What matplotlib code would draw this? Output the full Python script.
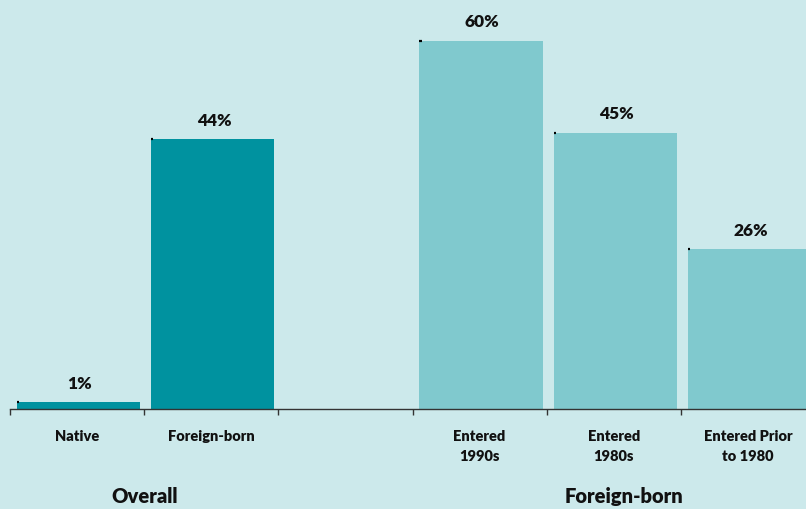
import numpy as np
import matplotlib.pyplot as plt
import matplotlib.transforms as mtransforms

# share of each group (%)
categories = ['Native', 'Foreign-born', '', 'Entered\n1990s', 'Entered\n1980s', 'Entered Prior\nto 1980']
values = [1, 44, None, 60, 45, 26]
groups = ['Overall', 'Foreign-born']
group_centers = [1.0, 4.58]

BG = '#cce9eb'
DARK = '#00929f'
LIGHT = '#80c9ce'
bar_colors = [DARK, DARK, None, LIGHT, LIGHT, LIGHT]

plt.rcParams['font.family'] = ['Lato', 'DejaVu Sans']

fig = plt.figure(figsize=(8.06, 5.10), dpi=100)
fig.patch.set_facecolor(BG)
ax = fig.add_axes([10 / 806, 100.5 / 510, 805 / 806, 368 / 510])
ax.set_facecolor(BG)

for i, v in enumerate(values):
    if v is None:
        continue
    ax.bar(i + 0.052, v, width=0.918, align='edge', color=bar_colors[i], zorder=2)
    # small marker at the bar's top-left corner
    ax.plot([i + 0.052, i + 0.068], [v, v], color='black', lw=1.6,
            solid_capstyle='butt', zorder=3, clip_on=False)
    ax.annotate(f'{v}%', (i + 0.52, v), xytext=(0, 8), textcoords='offset points',
                ha='center', va='bottom', fontsize=12.5, fontweight='heavy',
                color='#111111', annotation_clip=False)

ax.set_xlim(0, 6)
ax.set_ylim(0, 60)
ax.set_yticks([])
for s in ['left', 'top', 'right']:
    ax.spines[s].set_visible(False)
ax.spines['bottom'].set_color('#333333')
ax.spines['bottom'].set_linewidth(1.0)

ax.set_xticks(np.arange(0, 7))
ax.set_xticklabels([])
ax.tick_params(axis='x', which='major', direction='out', length=4.5, width=1, color='#333333')
ax.set_xticks(np.arange(6) + 0.5, minor=True)
ax.set_xticklabels(categories, minor=True, fontsize=10.5, fontweight='heavy',
                   color='#111111', linespacing=1.6)
ax.tick_params(axis='x', which='minor', length=0, pad=15)

trans = mtransforms.blended_transform_factory(ax.transData, fig.transFigure)
for g, c in zip(groups, group_centers):
    ax.text(c, 13 / 510, g, transform=trans, ha='center', va='center',
            fontsize=14.5, fontweight='heavy', color='#111111', clip_on=False)

fig.savefig('out.png', dpi=100, facecolor=BG)
